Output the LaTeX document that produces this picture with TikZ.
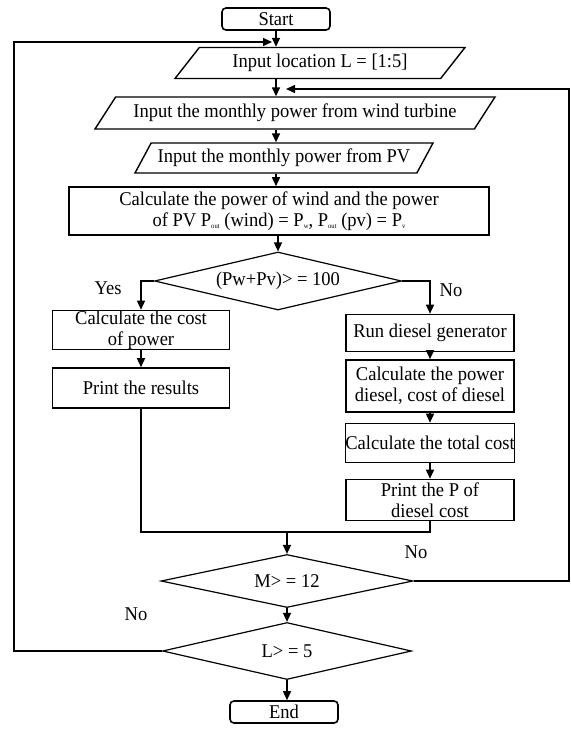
\documentclass[tikz,border=0pt]{standalone}
\usepackage{fontspec}
\setmainfont{Liberation Serif}[FakeStretch=0.95]
\usetikzlibrary{positioning,calc,shapes.geometric,arrows.meta}
\newcommand{\lowidx}[1]{\raisebox{-2.5pt}{\fontsize{7}{7}\selectfont #1}}

\begin{document}
\begin{tikzpicture}[x=1pt,y=-1pt,>={Triangle[length=9pt,width=8pt]},
                    every node/.style={font=\fontsize{19.5}{21}\selectfont,align=center,inner sep=0pt},
                    term/.style={draw,line width=1.6pt,rounded corners=4pt,minimum width=108pt,minimum height=22pt},
                    io/.style={draw,line width=1.4pt,trapezium,trapezium stretches body},
                    proc/.style={draw,line width=1.6pt,rectangle},
                    decision/.style={draw,line width=1.2pt,diamond},
                    link/.style={line width=1.5pt}]
            \useasboundingbox (0,0) rectangle (570,730);
            %Nodes
                \node[term] (start) at (276,19) {Start};
                \node[io,minimum width=290pt,minimum height=31pt,trapezium left angle=36,trapezium right angle=144] (loc) at (320,63) {Input location L = [1:5]};
                \node[io,minimum width=400pt,minimum height=32pt,trapezium left angle=41,trapezium right angle=139] (wind) at (295,113) {Input the monthly power from wind turbine};
                \node[io,minimum width=298pt,minimum height=30pt,trapezium left angle=48,trapezium right angle=132] (pv) at (284,158) {Input the monthly power from PV};
                \node[proc,minimum width=420pt,minimum height=48pt] (calc) at (279,211) {Calculate the power of wind and the power\\ of PV P\lowidx{out} (wind) = P\lowidx{w}, P\lowidx{out} (pv) = P\lowidx{v}};
                \node[decision,aspect=4.26,minimum width=247pt,minimum height=58pt] (check) at (278,281) {(Pw+Pv)> = 100};
                \node[proc,minimum width=177pt,minimum height=39pt] (cost) at (141,330) {Calculate the cost\\ of power};
                \node[proc,minimum width=177pt,minimum height=40pt] (result) at (141,388) {Print the results};
                \node[proc,minimum width=168pt,minimum height=37pt] (run) at (430,333) {Run diesel generator};
                \node[proc,minimum width=168pt,minimum height=52pt] (pdiesel) at (430,386) {Calculate the power\\ diesel, cost of diesel};
                \node[proc,minimum width=168pt,minimum height=39pt] (total) at (430,443) {Calculate the total cost};
                \node[proc,minimum width=168pt,minimum height=41pt] (printp) at (430,500) {Print the P of\\ diesel cost};
                \node[decision,aspect=4.75,minimum width=252pt,minimum height=53pt] (month) at (287,581) {M> = 12};
                \node[decision,aspect=4.37,minimum width=249pt,minimum height=57pt] (lcheck) at (287,651) {L> = 5};
                \node[term] (end) at (284,712) {End};

            %Labels
                \node (yes) at (108,288) {Yes};
                \node (no1) at (451,290) {No};
                \node (no2) at (416,552) {No};
                \node (no3) at (136,614) {No};

            %Corners
                \coordinate (topin) at (272,42);
                \coordinate (lcorner) at (14,42);
                \coordinate (midin) at (286,89);
                \coordinate (rcorner) at (569,89);
                \coordinate (join) at (287,532);

            %Lines
                \draw[link,->] (start) -- (start |- loc.north);
                \draw[link,->] (start |- loc.south) -- (start |- wind.north);
                \draw[link,->] (start |- wind.south) -- (start |- pv.north);
                \draw[link,->] (start |- pv.south) -- (start |- calc.north);
                \draw[link,->] (calc.south -| check.north) -- (check.north);
                \draw[link,->] (check.west) -| (cost.north);
                \draw[link,->] (check.east) -| (run.north);
                \draw[link,->] (cost) -- (result);
                \draw[link,->] (run) -- (pdiesel);
                \draw[link,->] (pdiesel) -- (total);
                \draw[link,->] (total) -- (printp);
                \draw[link] (result.south) |- (join);
                \draw[link] (printp.south) |- (join);
                \draw[link,->] (join) -- (month.north);
                \draw[link,->] (month) -- (lcheck);
                \draw[link,->] (lcheck.south) -- (lcheck.south |- end.north);
                \draw[link,->] (month.east) -| (rcorner) -- (midin);
                \draw[link,->] (lcheck.west) -| (lcorner) -- (topin);
\end{tikzpicture}
\end{document}
